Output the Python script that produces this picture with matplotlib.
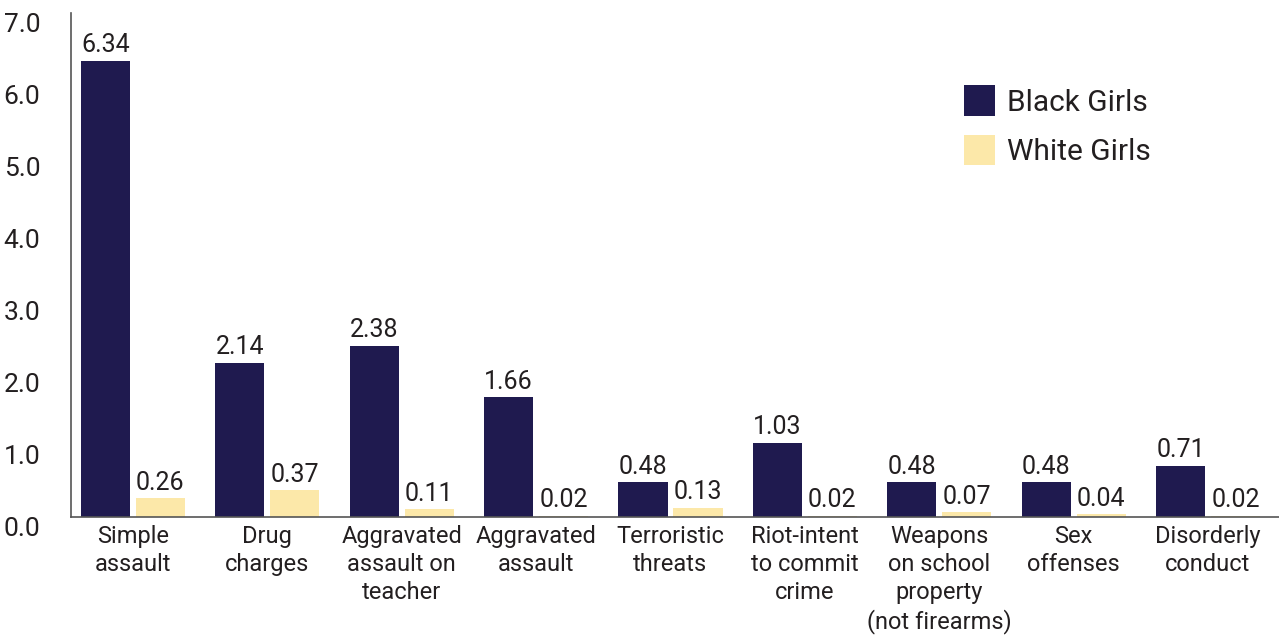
import matplotlib
matplotlib.use("Agg")
import matplotlib.pyplot as plt
import numpy as np
from matplotlib.patches import Patch

categories = [
    "Simple\nassault",
    "Drug\ncharges",
    "Aggravated\nassault on\nteacher",
    "Aggravated\nassault",
    "Terroristic\nthreats",
    "Riot-intent\nto commit\ncrime",
    "Weapons\non school\nproperty\n(not firearms)",
    "Sex\noffenses",
    "Disorderly\nconduct",
]
black_girls = [6.34, 2.14, 2.38, 1.66, 0.48, 1.03, 0.48, 0.48, 0.71]
white_girls = [0.26, 0.37, 0.11, 0.02, 0.13, 0.02, 0.07, 0.04, 0.02]
series_names = ["Black Girls", "White Girls"]
yticks = [0.0, 1.0, 2.0, 3.0, 4.0, 5.0, 6.0, 7.0]

NAVY = "#1f1a4f"
CREAM = "#fce8a9"
TEXT = "#231f20"

plt.rcParams["font.family"] = ["Roboto", "DejaVu Sans"]

fig = plt.figure(figsize=(12.79, 6.35), dpi=100)
ax = fig.add_axes([0.0555, 0.1858, 0.9445, 0.7937])

x = np.arange(len(categories))
w = 0.365
off = 0.2046
b1 = ax.bar(x - off, black_girls, width=w, color=NAVY)
b2 = ax.bar(x + off, white_girls, width=w, color=CREAM)

for bars, vals in ((b1, black_girls), (b2, white_girls)):
    for rect, v in zip(bars, vals):
        ax.annotate(f"{v:.2f}", (rect.get_x() + rect.get_width() / 2, v),
                    xytext=(0, 2.5), textcoords="offset points",
                    ha="center", va="bottom", fontsize=18, color=TEXT)

ax.set_xlim(-0.461, 8.528)
ax.set_ylim(0, 7.0)
ax.set_yticks(yticks)
ax.set_yticklabels([f"{t:.1f}" for t in yticks], fontsize=19, color=TEXT)
ax.set_xticks(x)
ax.set_xticklabels(categories, fontsize=17, color=TEXT, linespacing=1.27)
ax.tick_params(axis="both", length=0)
ax.tick_params(axis="y", pad=22)
ax.tick_params(axis="x", pad=6)
for lbl in ax.get_yticklabels():
    lbl.set_verticalalignment("top")

for s in ("top", "right"):
    ax.spines[s].set_visible(False)
for s in ("left", "bottom"):
    ax.spines[s].set_color("#555555")
    ax.spines[s].set_linewidth(1.2)

handles = [Patch(facecolor=NAVY), Patch(facecolor=CREAM)]
ax.legend(handles, series_names, loc="upper left", bbox_to_anchor=(0.717, 0.91),
          frameon=False, fontsize=21.5, handlelength=1.05, handleheight=1.2,
          handletextpad=0.4, labelspacing=0.6, labelcolor=TEXT)

fig.savefig("out.png", dpi=100)
